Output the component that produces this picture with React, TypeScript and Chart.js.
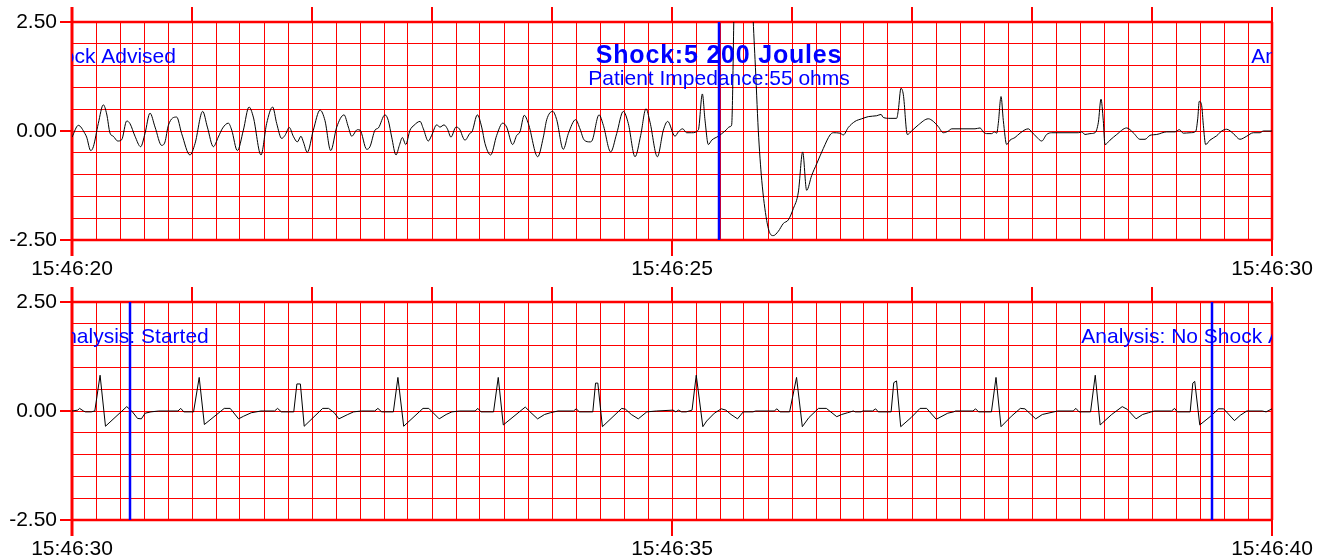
import React, { useEffect, useRef } from "react";
import { Chart, registerables } from "chart.js";

Chart.register(...registerables);

// ---------- data ----------
const topTickLabels = ["15:46:20", "15:46:25", "15:46:30"];
const bottomTickLabels = ["15:46:30", "15:46:35", "15:46:40"];
const labelledSeconds = [0, 5, 10];
const yTickValues = [-2.5, 0, 2.5];
const yTickLabels = ["-2.50", "0.00", "2.50"];

// seconds after strip start (15:46:20), amplitude
const topTimes = [
  0.000, 0.053, 0.108, 0.122, 0.156, 0.178, 0.219, 0.261, 0.289, 0.317, 0.344, 0.381, 0.414, 0.456, 0.483,
  0.525, 0.572, 0.608, 0.650, 0.692, 0.747, 0.775, 0.803, 0.872, 0.914, 0.983, 1.025, 1.089, 1.128, 1.178,
  1.219, 1.256, 1.303, 1.331, 1.378, 1.428, 1.475, 1.511, 1.575, 1.622, 1.672, 1.706, 1.747, 1.775, 1.811,
  1.844, 1.878, 1.908, 1.928, 1.961, 2.011, 2.067, 2.108, 2.156, 2.206, 2.267, 2.303, 2.331, 2.378, 2.400,
  2.456, 2.483, 2.525, 2.553, 2.608, 2.636, 2.664, 2.700, 2.728, 2.753, 2.781, 2.817, 2.850, 2.900, 2.928,
  2.969, 2.997, 3.039, 3.067, 3.100, 3.128, 3.158, 3.200, 3.228, 3.275, 3.317, 3.333, 3.378, 3.414, 3.442,
  3.489, 3.539, 3.589, 3.622, 3.672, 3.706, 3.733, 3.769, 3.803, 3.881, 3.928, 3.956, 4.006, 4.039, 4.094,
  4.136, 4.197, 4.233, 4.269, 4.317, 4.336, 4.392, 4.428, 4.489, 4.539, 4.594, 4.636, 4.692, 4.739, 4.783,
  4.817, 4.878, 4.928, 4.964, 5.025, 5.053, 5.089, 5.122, 5.164, 5.219, 5.253, 5.275, 5.303, 5.331, 5.386,
  5.442, 5.483, 5.497, 5.525, 5.650, 5.692, 5.719, 5.748, 5.789, 5.817, 5.844, 5.886, 5.928, 5.969, 6.011,
  6.053, 6.089, 6.122, 6.164, 6.206, 6.261, 6.317, 6.344, 6.400, 6.428, 6.469, 6.525, 6.581, 6.636, 6.706,
  6.742, 6.761, 6.817, 6.872, 6.886, 6.908, 6.928, 6.961, 6.997, 7.053, 7.136, 7.178, 7.219, 7.261, 7.303,
  7.331, 7.525, 7.567, 7.594, 7.622, 7.664, 7.686, 7.706, 7.719, 7.742, 7.761, 7.789, 7.817, 7.858, 7.900,
  7.969, 7.997, 8.039, 8.081, 8.122, 8.164, 8.386, 8.414, 8.442, 8.483, 8.525, 8.553, 8.575, 8.594, 8.608,
  8.650, 8.706, 8.789, 8.844, 8.900, 8.942, 8.983, 9.039, 9.122, 9.192, 9.228, 9.261, 9.317, 9.364, 9.381,
  9.394, 9.414, 9.428, 9.447, 9.483, 9.539, 9.581, 9.622, 9.678, 9.733, 9.789, 9.844, 9.900, 9.928, 10.000,
];
const topValues = [
  -0.14, 0.13, -0.06, -0.14, -0.45, -0.36, 0.17, 0.60, 0.39, -0.05, -0.12, -0.23, -0.20, 0.23, 0.17,
  -0.12, -0.36, -0.06, 0.41, 0.09, -0.33, -0.25, 0.13, 0.32, -0.06, -0.55, -0.29, 0.45, 0.09, -0.36,
  -0.14, 0.07, 0.18, 0.02, -0.45, 0.02, 0.55, 0.32, -0.55, 0.17, 0.55, 0.17, -0.17, -0.10, 0.08,
  -0.12, -0.25, -0.12, -0.25, -0.49, 0.02, 0.48, 0.24, -0.45, 0.09, 0.37, 0.09, -0.12, 0.03, 0.02,
  -0.42, -0.36, 0.02, 0.07, 0.37, 0.24, -0.14, -0.55, -0.33, -0.15, -0.31, 0.02, 0.13, 0.22, 0.05,
  -0.23, -0.10, 0.14, 0.09, 0.14, 0.05, -0.14, 0.09, 0.05, -0.21, -0.05, -0.02, 0.37, 0.09, -0.29,
  -0.55, -0.10, 0.18, 0.09, -0.31, -0.10, -0.02, 0.36, 0.17, -0.59, -0.14, 0.26, 0.45, 0.26, -0.42,
  -0.06, 0.26, 0.05, -0.21, -0.25, -0.21, 0.37, 0.13, -0.48, -0.06, 0.45, 0.17, -0.59, -0.10, 0.51,
  0.20, -0.59, 0.02, 0.22, -0.12, -0.02, 0.05, -0.04, -0.04, 0.02, 0.85, 0.25, -0.31, -0.21, -0.12,
  0.00, 0.10, 0.14, 3.50, 3.50, 1.64, 0.02, -1.13, -2.05, -2.35, -2.40, -2.30, -2.12, -2.04, -1.78,
  -1.40, -0.48, -1.36, -1.02, -0.75, -0.40, -0.09, -0.04, -0.05, -0.09, 0.08, 0.22, 0.28, 0.33, 0.35,
  0.38, 0.31, 0.29, 0.29, 0.48, 0.98, 0.83, -0.08, 0.00, 0.14, 0.28, 0.22, 0.10, -0.04, 0.00,
  0.05, 0.05, 0.07, -0.02, -0.06, -0.06, -0.02, -0.05, 0.17, 0.79, 0.24, -0.31, -0.21, -0.15, -0.05,
  0.05, -0.02, -0.14, -0.23, -0.08, -0.04, -0.04, -0.02, -0.08, -0.06, -0.04, 0.20, 0.73, 0.24, -0.31,
  -0.21, -0.08, 0.07, -0.04, -0.19, -0.19, -0.10, -0.08, -0.02, -0.02, 0.03, -0.05, -0.04, -0.01, 0.28,
  0.68, 0.58, 0.13, -0.31, -0.21, -0.11, 0.00, 0.04, -0.06, -0.19, -0.12, -0.04, -0.04, 0.00, 0.00,
];

// seconds after strip start (15:46:30), amplitude
const bottomTimes = [
  0.000, 0.048, 0.063, 0.096, 0.112, 0.160, 0.190, 0.234, 0.279, 0.456, 0.498, 0.546, 0.578, 0.610, 0.658,
  0.723, 0.883, 0.906, 0.932, 1.013, 1.060, 1.103, 1.269, 1.318, 1.388, 1.430, 1.494, 1.575, 1.688, 1.713,
  1.745, 1.848, 1.874, 1.903, 1.935, 2.089, 2.138, 2.186, 2.224, 2.298, 2.347, 2.411, 2.523, 2.549, 2.581,
  2.678, 2.716, 2.764, 2.925, 2.973, 3.060, 3.118, 3.166, 3.231, 3.359, 3.382, 3.408, 3.513, 3.552, 3.594,
  3.777, 3.825, 3.880, 3.938, 3.986, 4.050, 4.179, 4.202, 4.228, 4.340, 4.363, 4.382, 4.420, 4.581, 4.613,
  4.661, 4.719, 4.790, 4.870, 5.009, 5.032, 5.054, 5.080, 5.118, 5.167, 5.202, 5.257, 5.289, 5.353, 5.411,
  5.449, 5.492, 5.546, 5.594, 5.674, 5.697, 5.852, 5.874, 5.900, 5.980, 6.038, 6.086, 6.141, 6.221, 6.286,
  6.373, 6.414, 6.463, 6.511, 6.527, 6.575, 6.591, 6.671, 6.697, 6.719, 6.826, 6.848, 6.871, 6.906, 6.993,
  7.067, 7.122, 7.202, 7.250, 7.298, 7.347, 7.363, 7.508, 7.530, 7.555, 7.662, 7.700, 7.742, 7.828, 7.903,
  7.941, 8.031, 8.086, 8.150, 8.214, 8.343, 8.366, 8.392, 8.488, 8.527, 8.568, 8.664, 8.752, 8.793, 8.867,
  8.922, 8.970, 9.018, 9.163, 9.188, 9.211, 9.318, 9.340, 9.356, 9.398, 9.484, 9.555, 9.597, 9.687, 9.735,
  9.790, 9.918, 9.951, 10.000,
];
const bottomValues = [
  0.00, 0.02, 0.06, 0.00, -0.02, -0.02, 0.00, 0.82, -0.35, 0.10, 0.00, -0.17, -0.18, -0.05, -0.02,
  0.00, 0.00, 0.06, -0.02, -0.02, 0.77, -0.31, 0.06, 0.06, -0.18, -0.12, -0.04, 0.00, 0.00, 0.06,
  -0.02, -0.02, 0.62, 0.62, -0.35, 0.06, 0.06, -0.04, -0.18, -0.08, -0.02, 0.00, 0.00, 0.06, -0.02,
  -0.02, 0.77, -0.35, 0.06, 0.06, -0.18, -0.08, -0.02, 0.00, 0.00, 0.06, -0.02, -0.02, 0.77, -0.32,
  0.09, -0.04, -0.18, -0.08, -0.04, 0.00, 0.00, 0.05, -0.02, -0.02, 0.64, 0.64, -0.36, 0.06, 0.04,
  -0.08, -0.18, -0.02, 0.00, 0.02, -0.02, 0.02, -0.02, -0.02, 0.02, 0.82, -0.36, -0.23, -0.05, 0.05,
  0.02, -0.08, -0.18, -0.02, -0.02, 0.00, 0.00, 0.05, -0.02, -0.02, 0.77, -0.36, -0.15, 0.06, 0.06,
  -0.13, -0.08, -0.04, 0.00, -0.02, -0.02, 0.00, 0.00, 0.05, -0.02, -0.02, 0.65, 0.69, -0.36, -0.15,
  0.06, 0.06, -0.19, -0.12, -0.05, -0.02, 0.00, 0.00, 0.05, -0.02, -0.02, 0.77, -0.36, -0.12, 0.06,
  0.05, -0.18, -0.08, -0.04, 0.00, 0.00, 0.06, -0.02, -0.02, 0.82, -0.32, -0.08, 0.10, 0.04, -0.18,
  -0.08, -0.04, 0.00, 0.00, 0.06, -0.02, -0.02, 0.64, 0.68, -0.32, -0.13, 0.05, 0.05, -0.22, -0.10,
  0.00, 0.00, -0.02, 0.05,
];

// event annotations, seconds after 15:46:20
const eventTimes = [-0.223, 5.392, 10.483, 19.5];
const eventTitles = ["Analysis: No Shock Advised", "Shock:5 200 Joules", "Analysis: Started", "Analysis: No Shock Advised"];
const eventSubtitles = ["", "Patient Impedance:55 ohms", "", ""];
const eventBold = [false, true, false, false];

// ---------- styling ----------
const FONT = "'Liberation Sans', Arial, Helvetica, sans-serif";
const RED = "#ff0000";
const BLUE = "#0000ff";
const STRIP_SECONDS = 10;

function labelFor(values: number[], labels: string[], v: number) {
  const i = values.findIndex((s) => Math.abs(s - v) < 1e-6);
  return i >= 0 ? labels[i] : "";
}

const framePlugin = {
  id: "ecgFrame",
  beforeDatasetsDraw(chart: any) {
    const { ctx, chartArea: a, scales } = chart;
    const x = scales.x;
    const y = scales.y;
    ctx.save();
    ctx.strokeStyle = RED;
    ctx.lineCap = "butt";
    // top / bottom / right borders
    ctx.lineWidth = 2.5;
    ctx.beginPath();
    ctx.moveTo(a.left, a.top);
    ctx.lineTo(a.right, a.top);
    ctx.moveTo(a.left, a.bottom);
    ctx.lineTo(a.right, a.bottom);
    ctx.moveTo(a.right, a.top);
    ctx.lineTo(a.right, a.bottom);
    ctx.stroke();
    // left axis line, extended
    ctx.lineWidth = 3;
    ctx.beginPath();
    ctx.moveTo(a.left, a.top - 15);
    ctx.lineTo(a.left, a.bottom + 16);
    ctx.stroke();
    // tick marks above every second
    ctx.lineWidth = 2;
    ctx.beginPath();
    for (let s = 0; s <= STRIP_SECONDS; s++) {
      const px = Math.round(x.getPixelForValue(s));
      ctx.moveTo(px, a.top - 15);
      ctx.lineTo(px, a.top);
    }
    // tick marks below labelled seconds
    labelledSeconds.forEach((s) => {
      const px = Math.round(x.getPixelForValue(s));
      ctx.moveTo(px, a.bottom);
      ctx.lineTo(px, a.bottom + 16);
    });
    // y tick marks
    yTickValues.forEach((v) => {
      const py = Math.round(y.getPixelForValue(v));
      ctx.moveTo(a.left - 12, py);
      ctx.lineTo(a.left, py);
    });
    ctx.stroke();
    ctx.restore();
  },
};

function makeEventPlugin(offset: number) {
  return {
    id: "ecgEvents",
    afterDatasetsDraw(chart: any) {
      const { ctx, chartArea: a, scales } = chart;
      const x = scales.x;
      ctx.save();
      // marker lines
      ctx.strokeStyle = BLUE;
      ctx.lineWidth = 2.5;
      eventTimes.forEach((t) => {
        const rel = t - offset;
        if (rel >= 0 && rel <= STRIP_SECONDS) {
          const px = Math.round(x.getPixelForValue(rel));
          ctx.beginPath();
          ctx.moveTo(px, a.top);
          ctx.lineTo(px, a.bottom);
          ctx.stroke();
        }
      });
      // texts clipped to plot area
      ctx.beginPath();
      ctx.rect(a.left, a.top, a.right - a.left, a.bottom - a.top);
      ctx.clip();
      ctx.fillStyle = BLUE;
      ctx.textAlign = "center";
      ctx.textBaseline = "alphabetic";
      eventTimes.forEach((t, i) => {
        const rel = t - offset;
        if (rel < -4 || rel > STRIP_SECONDS + 4) return;
        const px = x.getPixelForValue(rel);
        if (eventBold[i]) {
          ctx.font = `bold 25px ${FONT}`;
          (ctx as any).letterSpacing = "0.8px";
        } else {
          ctx.font = `21px ${FONT}`;
          (ctx as any).letterSpacing = "0px";
        }
        ctx.fillText(eventTitles[i], px, a.top + 41);
        (ctx as any).letterSpacing = "0px";
        if (eventSubtitles[i]) {
          ctx.font = `21px ${FONT}`;
          ctx.fillText(eventSubtitles[i], px, a.top + 63);
        }
      });
      ctx.restore();
    },
  };
}

type StripProps = {
  times: number[];
  values: number[];
  tickLabels: string[];
  offset: number;
  smooth: boolean;
};

function Strip({ times, values, tickLabels, offset, smooth }: StripProps) {
  const ref = useRef<HTMLCanvasElement | null>(null);
  useEffect(() => {
    if (!ref.current) return;
    const chart = new Chart(ref.current, {
      type: "line",
      data: {
        datasets: [
          {
            data: times.map((t, i) => ({ x: t, y: values[i] })),
            borderColor: "#000000",
            borderWidth: 1,
            pointRadius: 0,
            fill: false,
            tension: smooth ? 0.4 : 0,
            cubicInterpolationMode: smooth ? "monotone" : "default",
          } as any,
        ],
      },
      options: {
        animation: false,
        responsive: false,
        devicePixelRatio: 1,
        layout: { padding: { top: 22, right: 45, left: 0, bottom: 0 } },
        plugins: { legend: { display: false }, tooltip: { enabled: false } },
        events: [],
        scales: {
          x: {
            type: "linear",
            min: 0,
            max: STRIP_SECONDS,
            afterFit: (s: any) => {
              s.height = 40;
            },
            border: { display: false },
            grid: { color: RED, lineWidth: 1, drawTicks: false },
            ticks: {
              stepSize: 0.2,
              autoSkip: false,
              maxRotation: 0,
              minRotation: 0,
              padding: 0,
              color: "#000000",
              font: { family: FONT, size: 21, lineHeight: "59px" },
              callback: (v: any) => labelFor(labelledSeconds, tickLabels, Number(v)),
            },
          },
          y: {
            type: "linear",
            min: -2.5,
            max: 2.5,
            afterFit: (s: any) => {
              s.width = 72;
            },
            border: { display: false },
            grid: { color: RED, lineWidth: 1, drawTicks: false },
            ticks: {
              stepSize: 0.5,
              autoSkip: false,
              padding: 15,
              color: "#000000",
              font: { family: FONT, size: 21, lineHeight: "4px" },
              callback: (v: any) => labelFor(yTickValues, yTickLabels, Number(v)),
            },
          },
        },
      } as any,
      plugins: [framePlugin, makeEventPlugin(offset)],
    });
    return () => chart.destroy();
  }, [times, values, tickLabels, offset, smooth]);
  return (
    <canvas
      ref={ref}
      width={1317}
      height={280}
      style={{ display: "block", width: 1317, height: 280 }}
    />
  );
}

export default function App() {
  return (
    <div style={{ position: "absolute", left: 0, top: 0, width: 1317, height: 560, background: "#ffffff" }}>
      <Strip times={topTimes} values={topValues} tickLabels={topTickLabels} offset={0} smooth={true} />
      <Strip times={bottomTimes} values={bottomValues} tickLabels={bottomTickLabels} offset={10} smooth={false} />
    </div>
  );
}
